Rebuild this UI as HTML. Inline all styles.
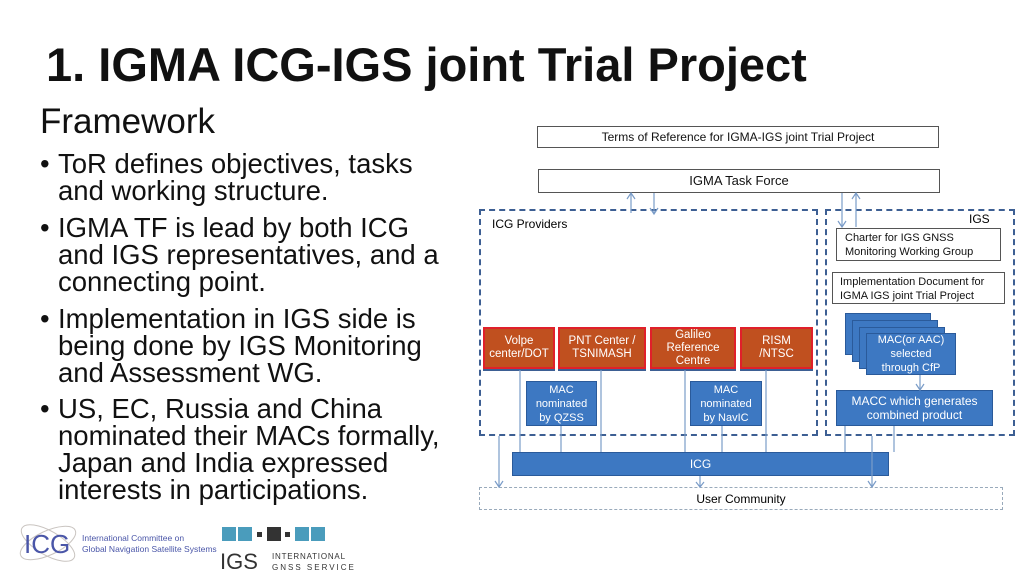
<!DOCTYPE html>
<html><head><meta charset="utf-8"><style>
body{margin:0;width:1024px;height:576px;background:#fff;position:relative;overflow:hidden;font-family:"Liberation Sans",Arial,sans-serif;}
.a{position:absolute;box-sizing:border-box;}
.t{white-space:nowrap;}
.wb{border:1px solid #555;background:#fff;font-size:12px;color:#111;}
.or{background:#c0501f;border:2px solid #e0202a;color:#fff;font-size:11.5px;text-align:center;line-height:13px;display:flex;align-items:center;justify-content:center;box-shadow:0 2px 0 #3d5f93;}
.bl{background:#3d78c2;border:1px solid #2a5a9a;color:#fff;font-size:11px;text-align:center;line-height:14px;display:flex;align-items:center;justify-content:center;}
.bul{font-size:27.5px;line-height:27px;color:#111;}
</style></head><body>
<div class="a t" style="left:46px;top:37px;font-size:47px;font-weight:bold;color:#111;">1. IGMA ICG-IGS joint Trial Project</div>
<div class="a t" style="left:40px;top:102px;font-size:35px;color:#111;">Framework</div>
<div class="a bul" style="left:40px;top:150px;">•</div>
<div class="a bul t" style="left:58px;top:150px;">ToR defines objectives, tasks<br>and working structure.</div>
<div class="a bul" style="left:40px;top:214px;">•</div>
<div class="a bul t" style="left:58px;top:214px;">IGMA TF is lead by both ICG<br>and IGS representatives, and a<br>connecting point.</div>
<div class="a bul" style="left:40px;top:305px;">•</div>
<div class="a bul t" style="left:58px;top:305px;">Implementation in IGS side is<br>being done by IGS Monitoring<br>and Assessment WG.</div>
<div class="a bul" style="left:40px;top:395px;">•</div>
<div class="a bul t" style="left:58px;top:395px;">US, EC, Russia and China<br>nominated their MACs formally,<br>Japan and India expressed<br>interests in participations.</div>

<div class="a wb t" style="left:537px;top:126px;width:402px;height:22px;text-align:center;line-height:20px;">Terms of Reference for IGMA-IGS joint Trial Project</div>
<div class="a wb t" style="left:538px;top:169px;width:402px;height:24px;text-align:center;line-height:22px;font-size:13px;">IGMA Task Force</div>

<div class="a" style="left:479px;top:209px;width:339px;height:227px;border:2px dashed #3d5f93;"></div>
<div class="a" style="left:825px;top:209px;width:190px;height:227px;border:2px dashed #3d5f93;"></div>
<div class="a t" style="left:492px;top:217px;font-size:12px;">ICG Providers</div>
<div class="a t" style="left:969px;top:212px;font-size:12px;">IGS</div>
<div class="a wb" style="left:836px;top:228px;width:165px;height:33px;font-size:11px;line-height:14px;padding:2px 0 0 8px;">Charter for IGS GNSS<br>Monitoring Working Group</div>
<div class="a wb" style="left:832px;top:272px;width:173px;height:32px;font-size:11px;line-height:14px;padding:2px 0 0 7px;">Implementation Document for<br>IGMA IGS joint Trial Project</div>

<div class="a or" style="left:483px;top:327px;width:72px;height:42px;">Volpe<br>center/DOT</div>
<div class="a or" style="left:558px;top:327px;width:88px;height:42px;">PNT Center /<br>TSNIMASH</div>
<div class="a or" style="left:650px;top:327px;width:86px;height:42px;">Galileo<br>Reference<br>Centre</div>
<div class="a or" style="left:740px;top:327px;width:73px;height:42px;">RISM<br>/NTSC</div>
<div class="a bl" style="left:526px;top:381px;width:71px;height:45px;">MAC<br>nominated<br>by QZSS</div>
<div class="a bl" style="left:690px;top:381px;width:72px;height:45px;">MAC<br>nominated<br>by NavIC</div>

<div class="a bl" style="left:845px;top:313px;width:86px;height:42px;"></div>
<div class="a bl" style="left:852px;top:320px;width:86px;height:42px;"></div>
<div class="a bl" style="left:859px;top:327px;width:86px;height:42px;"></div>
<div class="a bl" style="left:866px;top:333px;width:90px;height:42px;">MAC(or AAC)<br>selected<br>through CfP</div>
<div class="a bl" style="left:836px;top:390px;width:157px;height:36px;font-size:12px;">MACC which generates<br>combined product</div>

<div class="a bl" style="left:512px;top:452px;width:377px;height:24px;font-size:12px;">ICG</div>
<div class="a t" style="left:479px;top:487px;width:524px;height:23px;border:1px dashed #9ab;text-align:center;line-height:22px;font-size:12px;">User Community</div>

<svg class="a" style="left:0;top:0" width="1024" height="576">
<g stroke="#7a9cc8" stroke-width="1.2" fill="none">
<path d="M631 213V193M627 199L631 193L635 199"/>
<path d="M654 193V214M650 208L654 214L658 208"/>
<path d="M842 193V227M838 221L842 227L846 221"/>
<path d="M856 227V193M852 199L856 193L860 199"/>
<path d="M920 375V390M916 384L920 390L924 384"/>
<path d="M520 370V452M561 426V452M601 370V452M685 370V452M722 426V452M766 370V452M845 426V452M894 426V452"/>
<path d="M499 436V487M495 481L499 487L503 481"/>
<path d="M700 476V487M696 482L700 487L704 482"/>
<path d="M872 436V487M868 481L872 487L876 481"/>
</g>
<g transform="translate(48,543)">
<ellipse cx="0" cy="0" rx="30" ry="12" fill="none" stroke="#c9c4c0" transform="rotate(-25)"/>
<ellipse cx="0" cy="0" rx="30" ry="12" fill="none" stroke="#c9c4c0" transform="rotate(30)"/>
<text x="-24" y="10" font-family="Liberation Sans" font-size="26" fill="#4a56a8">ICG</text>
</g>
<text x="82" y="541" font-family="Liberation Sans" font-size="8.5" fill="#4a56a8">International Committee on</text>
<text x="82" y="552" font-family="Liberation Sans" font-size="8.5" fill="#4a56a8">Global Navigation Satellite Systems</text>
<rect x="222" y="527" width="14" height="14" fill="#4a9cbc"/><rect x="238" y="527" width="14" height="14" fill="#4a9cbc"/>
<rect x="257" y="532" width="5" height="5" fill="#333"/><rect x="267" y="527" width="14" height="14" fill="#333"/>
<rect x="285" y="532" width="5" height="5" fill="#333"/><rect x="295" y="527" width="14" height="14" fill="#4a9cbc"/><rect x="311" y="527" width="14" height="14" fill="#4a9cbc"/>
<text x="220" y="569" font-family="Liberation Sans" font-size="22" fill="#333">IGS</text>
<text x="272" y="559" font-family="Liberation Sans" font-size="8" fill="#333" letter-spacing="0.8">INTERNATIONAL</text>
<text x="272" y="570" font-family="Liberation Sans" font-size="8" fill="#333" letter-spacing="2">GNSS SERVICE</text>
</svg>
</body></html>
